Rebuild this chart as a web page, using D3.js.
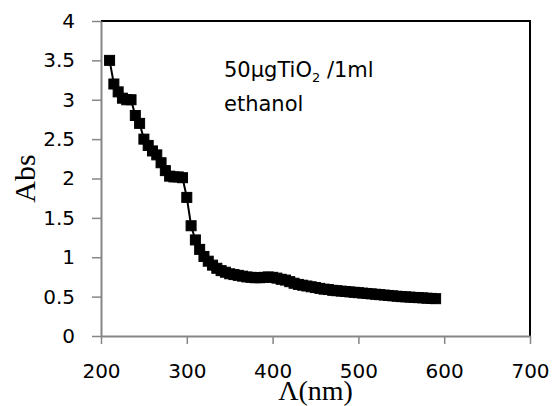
<!DOCTYPE html>
<html>
<head>
<meta charset="utf-8">
<script src="https://cdn.jsdelivr.net/npm/d3@7"></script>
<style>
  body { margin: 0; background: #fff; }
  svg { display: block; }
</style>
</head>
<body>
<div id="main"></div>
<script>
// wavelength (nm) and absorbance
var wavelength = [210,215,220,225,230,235,240,245,250,255,260,265,270,275,280,285,290,295,
    300,305,310,315,320,325,330,335,340,345,350,355,360,365,370,375,380,385,390,395,
    400,405,410,415,420,425,430,435,440,445,450,455,460,465,470,475,480,485,490,495,
    500,505,510,515,520,525,530,535,540,545,550,555,560,565,570,575,580,585,590];
var absorbance = [3.50,3.20,3.10,3.02,3.00,3.00,2.80,2.70,2.50,2.42,2.35,2.30,2.20,2.10,2.03,2.02,2.02,2.01,
    1.76,1.40,1.22,1.10,1.01,0.95,0.90,0.86,0.83,0.81,0.79,0.78,0.77,0.76,0.75,0.745,0.74,0.74,0.745,0.75,
    0.745,0.735,0.72,0.71,0.69,0.67,0.655,0.645,0.635,0.625,0.615,0.605,0.595,0.59,0.58,0.575,0.57,0.565,0.56,0.555,
    0.55,0.545,0.54,0.535,0.53,0.525,0.52,0.515,0.51,0.505,0.50,0.497,0.494,0.49,0.487,0.484,0.48,0.477,0.474];
var xTicks = [200,300,400,500,600,700];
var yTicks = [0,0.5,1,1.5,2,2.5,3,3.5,4];

var ctx = {
    w: 552,
    h: 406,
    left: 101,
    right: 530,
    top: 21,
    bottom: 336,
    AXIS: "#868686",
    FONT: "'DejaVu Sans', sans-serif"
};

var createViz = function(){
    var svg = d3.select("#main").append("svg")
        .attr("width", ctx.w)
        .attr("height", ctx.h);

    ctx.xScale = d3.scaleLinear().domain([200, 700]).range([ctx.left, ctx.right]);
    ctx.yScale = d3.scaleLinear().domain([0, 4]).range([ctx.bottom, ctx.top]);

    // black frame on top and right
    svg.append("path")
        .attr("d", "M" + ctx.left + "," + ctx.top + "H" + ctx.right + "V" + ctx.bottom)
        .style("fill", "none")
        .style("stroke", "#000")
        .style("stroke-width", 2);

    // x axis
    var xAxis = svg.append("g")
        .attr("transform", "translate(0," + ctx.bottom + ")")
        .call(d3.axisBottom(ctx.xScale).tickValues(xTicks).tickSize(8).tickPadding(20).tickSizeOuter(0));
    // y axis
    var yAxis = svg.append("g")
        .attr("transform", "translate(" + ctx.left + ",0)")
        .call(d3.axisLeft(ctx.yScale).tickValues(yTicks).tickSize(9).tickPadding(17)
            .tickSizeOuter(0).tickFormat(d3.format("")));

    [xAxis, yAxis].forEach(function(a){
        a.select(".domain").style("stroke", ctx.AXIS).style("stroke-width", 2);
        a.selectAll(".tick line").style("stroke", ctx.AXIS).style("stroke-width", 1.5);
        a.selectAll("text")
            .style("font-family", ctx.FONT)
            .style("font-size", "20px")
            .style("fill", "#000");
    });

    // series line
    var line = d3.line()
        .x(function(d, i){ return ctx.xScale(wavelength[i]); })
        .y(function(d){ return ctx.yScale(d); });
    svg.append("path")
        .datum(absorbance)
        .attr("d", line)
        .style("fill", "none")
        .style("stroke", "#000")
        .style("stroke-width", 2);

    // square markers
    svg.selectAll("rect.pt")
        .data(absorbance)
        .enter()
        .append("rect")
        .attr("class", "pt")
        .attr("x", function(d, i){ return ctx.xScale(wavelength[i]) - 5; })
        .attr("y", function(d){ return ctx.yScale(d) - 5; })
        .attr("width", 10)
        .attr("height", 10)
        .style("fill", "#000")
        .style("stroke", "#000")
        .style("stroke-width", 1);

    // axis titles
    svg.append("text")
        .attr("x", (ctx.left + ctx.right) / 2)
        .attr("y", 400)
        .style("text-anchor", "middle")
        .style("font-family", "'Liberation Serif', serif")
        .style("font-size", "28px")
        .text("Λ(nm)");
    svg.append("text")
        .attr("transform", "translate(35," + (ctx.top + ctx.bottom) / 2 + ") rotate(-90)")
        .style("text-anchor", "middle")
        .style("font-family", "'Liberation Serif', serif")
        .style("font-size", "30px")
        .text("Abs");

    // annotation
    var note = svg.append("text")
        .attr("x", 224)
        .attr("y", 77)
        .style("font-family", ctx.FONT)
        .style("font-size", "21px")
        .style("fill", "#000");
    note.append("tspan").text("50µgTiO");
    note.append("tspan").attr("dy", 5).style("font-size", "13px").text("2");
    note.append("tspan").attr("dy", -5).text(" /1ml");
    svg.append("text")
        .attr("x", 224)
        .attr("y", 111)
        .style("font-family", ctx.FONT)
        .style("font-size", "21px")
        .text("ethanol");
};

createViz();
</script>
</body>
</html>
